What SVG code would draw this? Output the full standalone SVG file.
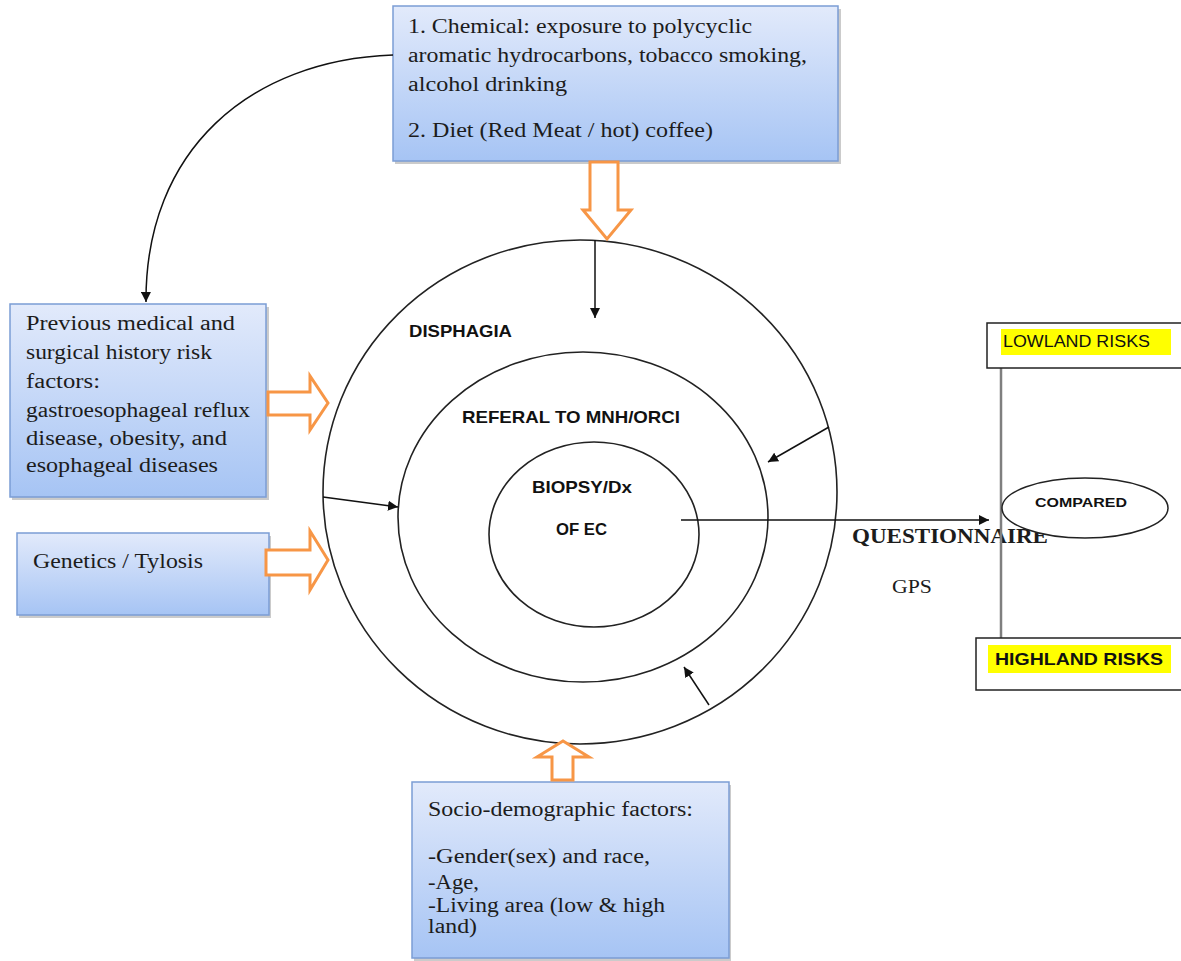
<svg xmlns="http://www.w3.org/2000/svg" width="1181" height="961" viewBox="0 0 1181 961">
<defs>
<linearGradient id="blueGrad" x1="0" y1="0" x2="0" y2="1">
<stop offset="0" stop-color="#e2eafb"/>
<stop offset="1" stop-color="#a6c4f4"/>
</linearGradient>
<marker id="arr" viewBox="0 0 10 10" refX="10" refY="5" markerWidth="10" markerHeight="10" markerUnits="userSpaceOnUse" orient="auto">
<path d="M0,0 L10,5 L0,10 z" fill="#111"/>
</marker>
<style>
.box{fill:url(#blueGrad);stroke:#7b9dd5;stroke-width:1.5}
.shadow{fill:#8c8c8c;opacity:0.45}
.serif{font-family:"Liberation Serif","Times New Roman",serif;fill:#1c1c1c}
.sans{font-family:"Liberation Sans",Arial,sans-serif;fill:#111}
.ring{fill:none;stroke:#222;stroke-width:1.6}
.conn{fill:none;stroke:#111;stroke-width:1.5}
.block{fill:#fff;stroke:#f79646;stroke-width:3;stroke-linejoin:miter}
.hl{fill:#ffff00}
.plain{fill:#fff;stroke:#222;stroke-width:1.5}
</style>
</defs>
<rect width="1181" height="961" fill="#fff"/>

<g id="rings">
<ellipse class="ring" cx="580" cy="492" rx="257" ry="252"/>
<ellipse class="ring" cx="583" cy="517" rx="185" ry="165"/>
<ellipse class="ring" cx="594" cy="534.5" rx="105" ry="92.5"/>
<text class="sans" x="409" y="337" font-size="17" font-weight="bold" textLength="103" lengthAdjust="spacingAndGlyphs">DISPHAGIA</text>
<text class="sans" x="462" y="423" font-size="17" font-weight="bold" textLength="218" lengthAdjust="spacingAndGlyphs">REFERAL TO MNH/ORCI</text>
<text class="sans" x="532" y="493" font-size="17" font-weight="bold" textLength="100" lengthAdjust="spacingAndGlyphs">BIOPSY/Dx</text>
<text class="sans" x="556" y="535" font-size="17" font-weight="bold" textLength="51" lengthAdjust="spacingAndGlyphs">OF EC</text>
</g>

<g id="node-chemical">
<rect class="shadow" x="395" y="9" width="446" height="155"/>
<rect class="box" x="393" y="6" width="445" height="155"/>
<text class="serif" font-size="20">
<tspan x="408" y="33" textLength="344" lengthAdjust="spacingAndGlyphs">1. Chemical: exposure to polycyclic</tspan>
<tspan x="408" y="62" textLength="399" lengthAdjust="spacingAndGlyphs">aromatic hydrocarbons, tobacco smoking,</tspan>
<tspan x="408" y="91" textLength="159" lengthAdjust="spacingAndGlyphs">alcohol drinking</tspan>
<tspan x="408" y="137" textLength="305" lengthAdjust="spacingAndGlyphs">2. Diet (Red Meat / hot) coffee)</tspan>
</text>
</g>

<g id="node-history">
<rect class="shadow" x="12" y="307" width="257" height="193"/>
<rect class="box" x="10" y="304" width="256" height="193"/>
<text class="serif" font-size="20">
<tspan x="26" y="330" textLength="209" lengthAdjust="spacingAndGlyphs">Previous medical and</tspan>
<tspan x="26" y="359" textLength="186" lengthAdjust="spacingAndGlyphs">surgical history risk</tspan>
<tspan x="26" y="388" textLength="74" lengthAdjust="spacingAndGlyphs">factors:</tspan>
<tspan x="26" y="417" textLength="224" lengthAdjust="spacingAndGlyphs">gastroesophageal reflux</tspan>
<tspan x="26" y="445" textLength="201" lengthAdjust="spacingAndGlyphs">disease, obesity, and</tspan>
<tspan x="26" y="472" textLength="192" lengthAdjust="spacingAndGlyphs">esophageal diseases</tspan>
</text>
</g>

<g id="node-genetics">
<rect class="shadow" x="19" y="536" width="252" height="82"/>
<rect class="box" x="17" y="533" width="252" height="82"/>
<text class="serif" x="33" y="568" font-size="20" textLength="170" lengthAdjust="spacingAndGlyphs">Genetics /  Tylosis</text>
</g>

<g id="node-socio">
<rect class="shadow" x="414" y="785" width="317" height="176"/>
<rect class="box" x="412" y="782" width="317" height="176"/>
<text class="serif" font-size="20">
<tspan x="428" y="816" textLength="265" lengthAdjust="spacingAndGlyphs">Socio-demographic factors:</tspan>
<tspan x="428" y="863" textLength="222" lengthAdjust="spacingAndGlyphs">-Gender(sex) and race,</tspan>
<tspan x="428" y="889" textLength="51" lengthAdjust="spacingAndGlyphs">-Age,</tspan>
<tspan x="428" y="912" textLength="237" lengthAdjust="spacingAndGlyphs">-Living area (low &amp; high</tspan>
<tspan x="428" y="933" textLength="49" lengthAdjust="spacingAndGlyphs">land)</tspan>
</text>
</g>

<g id="node-questionnaire">
<text class="serif" x="852" y="543" font-size="21" font-weight="bold" textLength="196" lengthAdjust="spacingAndGlyphs">QUESTIONNAIRE</text>
<text class="serif" x="892" y="593" font-size="19" textLength="40" lengthAdjust="spacingAndGlyphs">GPS</text>
</g>

<g id="connectors">
<line x1="1001" y1="368" x2="1001" y2="638" stroke="#7f7f7f" stroke-width="2.5"/>
<path class="conn" d="M393,55 C250,60 145,150 146,302" marker-end="url(#arr)"/>
<line class="conn" x1="595" y1="240" x2="595" y2="318" marker-end="url(#arr)"/>
<line class="conn" x1="829" y1="427" x2="768" y2="462" marker-end="url(#arr)"/>
<line class="conn" x1="323" y1="497" x2="398" y2="507" marker-end="url(#arr)"/>
<line class="conn" x1="709" y1="705" x2="684" y2="667" marker-end="url(#arr)"/>
<line class="conn" x1="681" y1="520" x2="989" y2="520" marker-end="url(#arr)"/>
<polygon class="block" points="590,162 618,162 618,210 631,210 607,239 583,210 590,210"/>
<polygon class="block" points="268,392 310,392 310,376 328,403 310,430 310,415 268,415"/>
<polygon class="block" points="266,550 310,550 310,531 328,560 310,590 310,575 266,575"/>
<polygon class="block" points="552,780 573,780 573,757 589,757 563,741 537,757 552,757"/>
</g>

<g id="node-lowland">
<rect class="plain" x="987" y="323" width="210" height="45"/>
<rect class="hl" x="1001" y="329" width="170" height="26"/>
<text class="sans" x="1003" y="347" font-size="16" textLength="147" lengthAdjust="spacingAndGlyphs">LOWLAND RISKS</text>
</g>

<g id="node-highland">
<rect class="plain" x="976" y="638" width="220" height="52"/>
<rect class="hl" x="988" y="645" width="183" height="28"/>
<text class="sans" x="995" y="665" font-size="17" font-weight="bold" textLength="168" lengthAdjust="spacingAndGlyphs">HIGHLAND RISKS</text>
</g>

<g id="node-compared">
<ellipse class="plain" cx="1085" cy="508" rx="83" ry="30"/>
<text class="sans" x="1035" y="507" font-size="13" font-weight="bold" textLength="92" lengthAdjust="spacingAndGlyphs">COMPARED</text>
</g>
</svg>
